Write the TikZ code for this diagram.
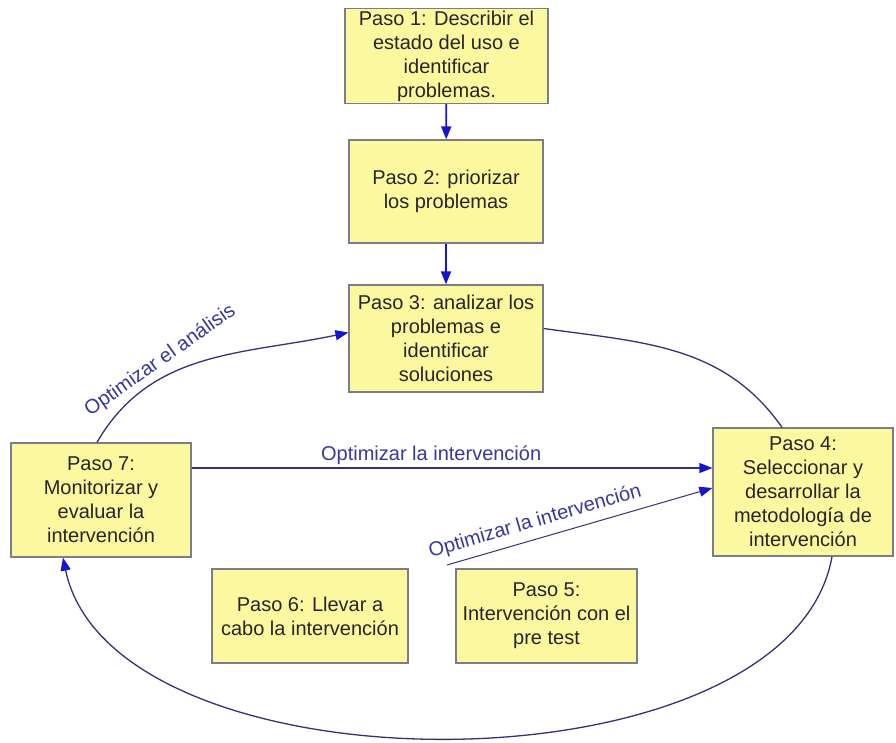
\documentclass[tikz,border=0pt]{standalone}
\usepackage{fontspec}
\setmainfont{Liberation Sans}
\usepackage{tikz}
\usetikzlibrary{calc,positioning,arrows.meta}
\definecolor{pasoyellow}{RGB}{252,248,160}
\definecolor{pasoborder}{RGB}{125,125,135}
\definecolor{flowblue}{RGB}{20,20,210}
\definecolor{cyclenavy}{RGB}{50,50,120}
\definecolor{labelblue}{RGB}{55,55,160}

\begin{document}
\begin{tikzpicture}[x=1pt, y=1pt,
  paso/.style={draw=pasoborder, line width=1.3pt, fill=pasoyellow, align=center, inner sep=2pt, text=black!85, font=\fontsize{20}{24}\selectfont},
  flecha/.style={flowblue, line width=1.8pt, -{Triangle[length=13pt,width=10pt]}},
  ciclo/.style={cyclenavy, line width=1.3pt},
  punta/.style={-{Triangle[length=13pt,width=10pt,color=flowblue]}},
  etiqueta/.style={text=labelblue, font=\fontsize{20}{22}\selectfont, inner sep=1pt}]
\useasboundingbox (0,0) rectangle (896,-742);
% pasos
\node[paso, minimum width=203pt, minimum height=92pt](p1) at (446.5,-56) {Paso 1: Describir el\\estado del uso e\\identificar\\problemas.};
\node[paso, minimum width=194pt, minimum height=103pt](p2) at (446,-191.5) {Paso 2: priorizar\\los problemas};
\node[paso, minimum width=194pt, minimum height=107pt](p3) at (446,-338.5) {Paso 3: analizar los\\problemas e\\identificar\\soluciones};
\node[paso, minimum width=180pt, minimum height=128pt](p4) at (803,-492) {Paso 4:\\Seleccionar y\\desarrollar la\\metodología de\\intervención};
\node[paso, minimum width=181pt, minimum height=94pt](p5) at (546.5,-616) {Paso 5:\\Intervención con el\\pre test};
\node[paso, minimum width=196pt, minimum height=94pt](p6) at (310,-616) {Paso 6: Llevar a\\cabo la intervención};
\node[paso, minimum width=180pt, minimum height=114pt](p7) at (101,-500) {Paso 7:\\Monitorizar y\\evaluar la\\intervención};
\coordinate (inicio) at (447,-565);
% flechas
\draw[flecha] (p1) -- (p2);
\draw[flecha] (p2) -- (p3);
\draw[ciclo, punta] ([xshift=-4pt]p7.north) to[out=60, in=192] node[etiqueta, sloped, rotate=9, above=5pt, pos=0.36] {Optimizar el análisis} ([yshift=6pt]p3.west);
\draw[ciclo] ([yshift=10pt]p3.east) to[out=-8, in=125] ([xshift=-21pt]p4.north);
\draw[ciclo, punta] ([yshift=32pt]p7.east) -- node[etiqueta, above=2pt, pos=0.46] {Optimizar la intervención} ([yshift=24pt]p4.west);
\draw[ciclo, line width=1pt, punta] (inicio) -- node[etiqueta, sloped, above=6pt, pos=0.35] {Optimizar la intervención} ([yshift=4pt]p4.west);
\draw[ciclo, punta] ([xshift=29pt]p4.south) .. controls (789,-798) and (113,-798) .. ([xshift=-38pt]p7.south);
\end{tikzpicture}
\end{document}
